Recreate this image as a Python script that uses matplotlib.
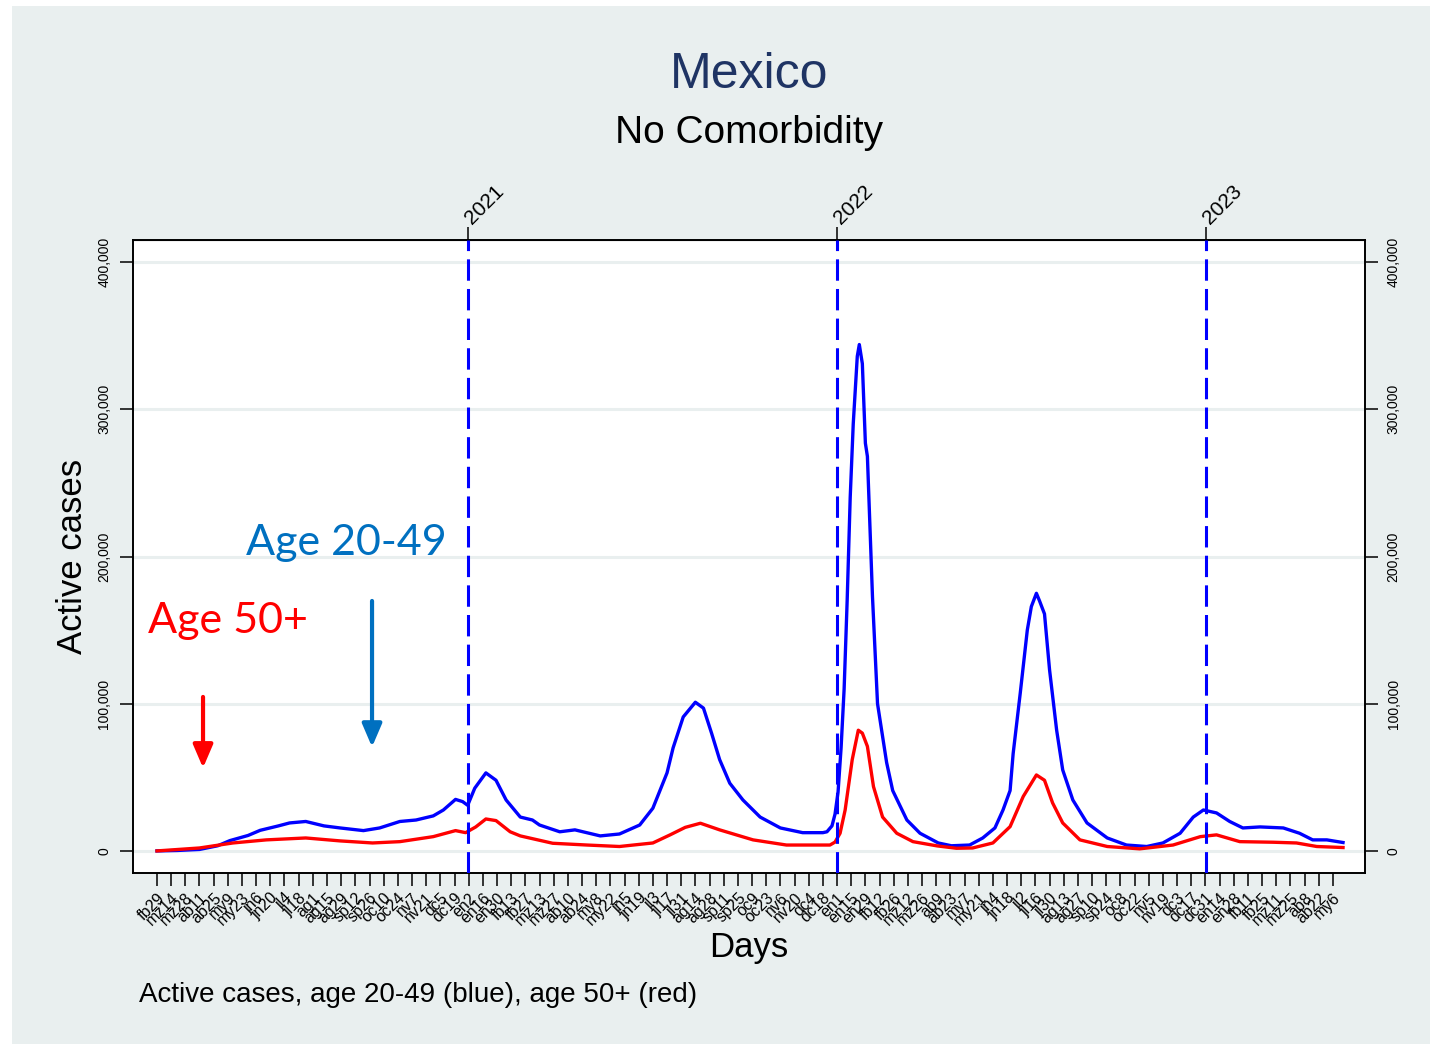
import numpy as np
import matplotlib.pyplot as plt
from matplotlib.patches import Rectangle

plt.rcParams['font.family'] = ['Liberation Sans', 'DejaVu Sans']

# días desde 2020-02-29, casos activos en miles
blue_day = [0, 20, 42, 60, 72, 90, 102, 120, 131, 147, 165, 181, 204, 220, 240, 256,
            273, 283, 295, 302, 307, 314, 325, 335, 345, 359, 371, 378, 398, 413, 438,
            457, 477, 490, 504, 510, 520, 532, 540, 548, 556, 566, 579, 596, 616, 638,
            658, 662, 667, 670, 673, 676, 679, 682, 685, 688, 692, 694, 697, 700, 702,
            707, 712, 721, 727, 741, 754, 772, 785, 803, 816, 828, 836, 843, 846, 853,
            860, 864, 869, 872, 877, 882, 889, 895, 905, 919, 939, 958, 978, 994, 1011,
            1024, 1034, 1047, 1060, 1073, 1090, 1113, 1129, 1142, 1156, 1172]
blue_k = [0, 0.3, 1, 3.5, 7, 10.5, 14, 17, 19, 20, 17, 15.6, 13.8, 15.6, 20, 21,
          23.8, 27.8, 35, 33.5, 31, 42.6, 53, 48, 34.6, 23, 21, 17.6, 13, 14.3, 10.2,
          11.5, 17.6, 29, 53, 70, 91, 101, 97, 80, 62, 46, 34.6, 23, 15.6, 12.4,
          12.4, 13, 17, 25, 40, 70, 110, 170, 240, 290, 336, 344, 331, 277, 268,
          173, 100, 60, 41, 21, 12, 5.4, 3.5, 4, 8.8, 15.6, 27.8, 41, 66, 107,
          150, 166, 175, 170, 161, 123, 82, 55, 34.6, 19, 8.8, 4, 3, 5.4, 12,
          23, 27.8, 25.8, 20, 15.6, 16.3, 15.6, 12, 7.5, 7.5, 5.7]

red_day = [0, 42, 75, 108, 147, 181, 213, 240, 273, 295, 305, 315, 325, 335, 349, 359,
           391, 425, 457, 490, 507, 522, 537, 556, 589, 622, 665, 670, 675, 680, 687,
           693, 697, 702, 708, 717, 731, 747, 771, 790, 806, 826, 843, 856, 869, 877,
           885, 895, 912, 939, 971, 1004, 1031, 1047, 1070, 1103, 1126, 1146, 1172]
red_k = [0, 2, 5.4, 7.5, 8.8, 6.8, 5.4, 6.3, 9.7, 13.8, 12.4, 16.3, 21.7, 20.6, 13, 10.2,
         5.2, 4, 3, 5.4, 10.9, 16, 18.8, 14.3, 7.5, 4, 4, 6, 12, 27.8, 62,
         82, 80, 71, 43.7, 23, 12, 6.3, 3.4, 1.8, 2, 5.4, 16.5, 37, 51.6, 48,
         32.6, 19, 7.5, 3, 1.4, 4, 9.7, 10.9, 6.3, 5.9, 5.4, 3, 2.3]

meses = ['en', 'fb', 'mz', 'ab', 'my', 'jn', 'jl', 'ag', 'sp', 'oc', 'nv', 'dc']
years = ['2021', '2022', '2023']
y_ticks = [0, 100000, 200000, 300000, 400000]

start = np.datetime64('2020-02-29')
tick_dates = np.arange(start, np.datetime64('2023-05-07'), 14)
tick_pos = (tick_dates - start).astype(int)
tick_labels = [meses[d.month - 1] + str(d.day) for d in tick_dates.astype(object)]
year_pos = [(np.datetime64(y + '-01-01') - start).astype(int) for y in years]

bg = '#E9EFEF'
navy = '#1F3464'

fig = plt.figure(figsize=(14.3, 10.44), dpi=100, facecolor='white')
fig.add_artist(Rectangle((12 / 1430, 0), 1418 / 1430, 1038 / 1044,
                         transform=fig.transFigure, facecolor=bg,
                         edgecolor='none', zorder=-10))

ax = fig.add_axes([133 / 1430, 171 / 1044, 1232 / 1430, 633 / 1044])
ax.set_facecolor('white')
ax.set_xlim(-23.7, 1193.7)
ax.set_ylim(-15000, 415000)

for s in ax.spines.values():
    s.set_linewidth(1.4)

ax.grid(axis='y', color=bg, lw=2.2)
ax.set_axisbelow(True)

ax.plot(blue_day, np.array(blue_k) * 1000, color='#0000FF', lw=2.4, zorder=2)
ax.plot(red_day, np.array(red_k) * 1000, color='#FF0000', lw=2.4, zorder=2)
for d in year_pos:
    ax.axvline(d, color='#0000FF', lw=2.2, ls=(0, (7, 2.7)), zorder=3)

# eje y a ambos lados
ax.set_yticks(y_ticks)
ax.yaxis.set_major_formatter(lambda v, p: f'{int(v):,}')
ax.tick_params(axis='y', left=True, right=True, labelleft=True, labelright=True,
               labelrotation=90, length=9.5, width=1.1, labelsize=10, pad=6)
for lab in ax.yaxis.get_ticklabels():
    lab.set_va('center')

# eje x: fechas cada 14 días
ax.set_xticks(tick_pos, tick_labels, rotation=45, ha='right',
              rotation_mode='anchor', fontsize=11.5)
ax.tick_params(axis='x', length=9.5, width=1.1, pad=3)

sec = ax.secondary_xaxis('top')
sec.set_xticks(year_pos, years, rotation=45, ha='left', va='center',
               rotation_mode='anchor', fontsize=15)
sec.tick_params(length=9.5, width=1.1, pad=4)

# etiquetas de grupos con flechas
ax.text(186.8, 209000, 'Age 20-49', color='#0070C0', fontsize=31,
        family=['Lato', 'DejaVu Sans'], ha='center', va='center')
ax.text(69.7, 156000, 'Age 50+', color='#FF0000', fontsize=31,
        family=['Lato', 'DejaVu Sans'], ha='center', va='center')
ax.annotate('', xy=(212.5, 70600), xytext=(212.5, 169800),
            arrowprops=dict(arrowstyle='-|>,head_width=0.3,head_length=0.7',
                            color='#0070C0', lw=3, mutation_scale=20,
                            shrinkA=0, shrinkB=0))
ax.annotate('', xy=(45.5, 56400), xytext=(45.5, 104600),
            arrowprops=dict(arrowstyle='-|>,head_width=0.3,head_length=0.7',
                            color='#FF0000', lw=3, mutation_scale=20,
                            shrinkA=0, shrinkB=0))

fig.text(749 / 1430, 1 - 75 / 1044, 'Mexico', ha='center', va='center',
         fontsize=36, color=navy)
fig.text(749 / 1430, 1 - 133 / 1044, 'No Comorbidity', ha='center', va='center',
         fontsize=28, color='black')
fig.text(749 / 1430, 1 - 947 / 1044, 'Days', ha='center', va='center', fontsize=25)
fig.text(72 / 1430, 1 - 556 / 1044, 'Active cases', ha='center', va='center',
         fontsize=25, rotation=90)
fig.text(139 / 1430, 1 - 995 / 1044, 'Active cases, age 20-49 (blue), age 50+ (red)',
         ha='left', va='center', fontsize=20)

plt.savefig('out.png', dpi=100, facecolor=fig.get_facecolor())
